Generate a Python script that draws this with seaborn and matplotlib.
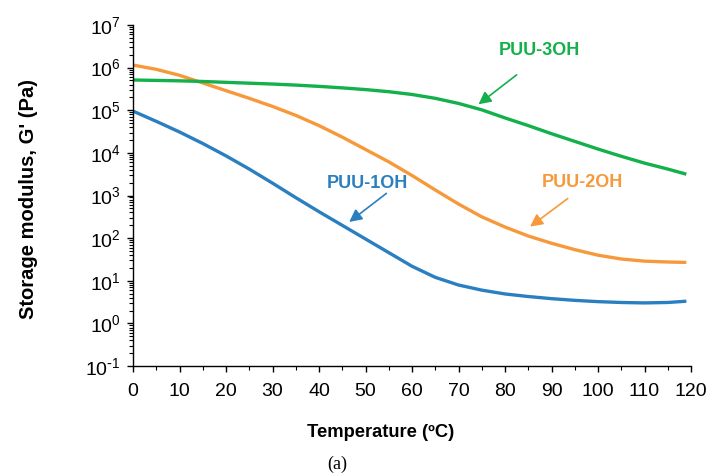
import numpy as np
import pandas as pd
import matplotlib
matplotlib.use("Agg")
import matplotlib.pyplot as plt
import seaborn as sns

# ---- data ----
temperature = [0, 5, 10, 15, 20, 25, 30, 35, 40, 45, 50, 55, 60, 65, 70, 75, 80, 85,
               90, 95, 100, 105, 110, 115, 119]
log_puu1 = [4.98, 4.74, 4.49, 4.22, 3.93, 3.62, 3.29, 2.95, 2.62, 2.30, 1.98, 1.66, 1.34,
            1.08, 0.90, 0.78, 0.69, 0.63, 0.58, 0.54, 0.51, 0.49, 0.48, 0.49, 0.52]
log_puu2 = [6.06, 5.96, 5.82, 5.64, 5.46, 5.28, 5.09, 4.88, 4.64, 4.37, 4.08, 3.79, 3.47,
            3.13, 2.80, 2.50, 2.26, 2.05, 1.88, 1.73, 1.60, 1.51, 1.46, 1.44, 1.43]
log_puu3 = [5.71, 5.70, 5.69, 5.675, 5.655, 5.635, 5.615, 5.59, 5.56, 5.525, 5.485, 5.435,
            5.37, 5.28, 5.16, 5.01, 4.82, 4.64, 4.45, 4.27, 4.09, 3.92, 3.76, 3.62, 3.50]
series_names = ["PUU-1OH", "PUU-2OH", "PUU-3OH"]
colors = ["#2A7FC0", "#F7993A", "#13B04B"]

# annotation positions: (text T, text logG, arrow tail T, tail logG, head T, head logG)
annot = {
    "PUU-1OH": (50.5, 3.29, 54.5, 3.05, 46.5, 2.38),
    "PUU-2OH": (96.7, 3.30, 93.5, 2.93, 85.4, 2.27),
    "PUU-3OH": (87.5, 6.41, 82.5, 5.83, 74.3, 5.14),
}

rows = []
for name, logs in zip(series_names, [log_puu1, log_puu2, log_puu3]):
    for t, lg in zip(temperature, logs):
        rows.append({"T": t, "G": 10 ** lg, "series": name})
df = pd.DataFrame(rows)

sns.set_style("ticks")
plt.rcParams["font.family"] = ["Liberation Sans", "DejaVu Sans"]
plt.rcParams["mathtext.default"] = "regular"
plt.rcParams["axes.unicode_minus"] = False

fig = plt.figure(figsize=(7.09, 4.75), dpi=100)
ax = fig.add_axes([133 / 709, 1 - 366 / 475, 558 / 709, 341 / 475])

sns.lineplot(data=df, x="T", y="G", hue="series", palette=colors,
             hue_order=series_names, linewidth=2.4, legend=False, ax=ax)
for ln in ax.get_lines():
    ln.set_solid_joinstyle("round")
    ln.set_solid_capstyle("butt")

ax.set_yscale("log")
ax.set_ylim(1e-1, 1e7)
ax.set_xlim(0, 120)
ax.set_xticks(np.arange(0, 121, 10))
ax.set_xticks(np.arange(5, 120, 10), minor=True)
ax.yaxis.set_major_locator(matplotlib.ticker.LogLocator(base=10, numticks=20))
ax.yaxis.set_minor_locator(matplotlib.ticker.LogLocator(base=10, subs=np.arange(2, 10), numticks=20))
ax.yaxis.set_minor_formatter(matplotlib.ticker.NullFormatter())


def pow_fmt(v, pos):
    e = int(round(np.log10(v)))
    if e < 0:
        return r"$10^{\text{-}%d}$" % (-e)
    return r"$10^{%d}$" % e


ax.yaxis.set_major_formatter(matplotlib.ticker.FuncFormatter(pow_fmt))

for s in ["top", "right"]:
    ax.spines[s].set_visible(False)
for s in ["left", "bottom"]:
    ax.spines[s].set_color("black")
    ax.spines[s].set_linewidth(1.0)

ax.tick_params(axis="both", which="major", direction="out", length=4, width=1,
               color="black", labelsize=14, labelcolor="black")
ax.tick_params(axis="both", which="minor", direction="out", length=3, width=0.8, color="black")
ax.tick_params(axis="y", which="major", pad=5)
ax.tick_params(axis="x", which="major", pad=8)

ax.set_xlabel("Temperature (ºC)", fontsize=13.2, fontweight="bold", color="black")
ax.set_ylabel("Storage modulus, G' (Pa)", fontsize=14.5, fontweight="bold", color="black")
ax.xaxis.set_label_coords(0.444, -0.17)
ax.yaxis.set_label_coords(-0.17, 0.49)

for name, col in zip(series_names, colors):
    tx, ty, ax0, ay0, hx, hy = annot[name]
    ax.text(tx, 10 ** ty, name, color=col, fontsize=13, fontweight="bold",
            ha="center", va="center")
    ax.annotate("", xy=(hx, 10 ** hy), xytext=(ax0, 10 ** ay0),
                arrowprops=dict(arrowstyle="-|>,head_length=0.75,head_width=0.38",
                                color=col, lw=1.2, shrinkA=0, shrinkB=0))

fig.text(337 / 709, 1 - 464 / 475, "(a)", fontsize=13, family=["Liberation Serif", "DejaVu Serif"],
         ha="center", va="center", color="black")

fig.savefig("out.png", dpi=100)
